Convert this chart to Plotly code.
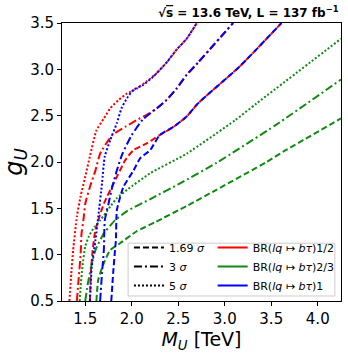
import plotly.graph_objects as go

# --- Data (M_U in TeV, g_U) ---
# BR(lq -> b tau) = 1/2  (red)
red_169_m = [1.55, 1.56, 1.58, 1.61, 1.70, 1.84, 1.93, 2.02, 2.16, 2.30, 2.45, 2.59, 2.71, 3.16, 3.61]
red_169_g = [0.50, 0.80, 1.05, 1.27, 1.55, 1.84, 2.02, 2.13, 2.20, 2.29, 2.38, 2.49, 2.63, 3.03, 3.50]
red_3_m = [1.41, 1.43, 1.45, 1.46, 1.48, 1.50, 1.55, 1.61, 1.66, 1.79, 1.93, 2.05, 2.16, 2.27, 2.375, 2.48, 2.59, 2.71, 3.09]
red_3_g = [0.50, 0.75, 1.00, 1.23, 1.37, 1.55, 1.73, 1.91, 2.09, 2.29, 2.38, 2.45, 2.51, 2.58, 2.67, 2.79, 2.94, 3.07, 3.50]
red_5_m = [1.33, 1.35, 1.37, 1.41, 1.45, 1.50, 1.55, 1.62, 1.70, 1.77, 1.86, 1.95, 2.05, 2.16, 2.27, 2.38, 2.48, 2.59, 2.70]
red_5_g = [0.50, 0.80, 1.05, 1.41, 1.63, 1.84, 2.06, 2.34, 2.47, 2.58, 2.67, 2.74, 2.79, 2.87, 2.96, 3.08, 3.21, 3.33, 3.50]

# BR = 2/3  (green)
green_169_m = [1.62, 1.64, 1.70, 1.77, 1.87, 2.05, 2.25, 2.60, 2.91, 3.45, 3.66, 4.25]
green_169_g = [0.50, 0.73, 0.91, 1.05, 1.12, 1.25, 1.35, 1.53, 1.70, 2.00, 2.13, 2.47]
green_3_m = [1.50, 1.53, 1.57, 1.61, 1.70, 1.82, 1.95, 2.20, 2.52, 2.91, 3.55, 4.25]
green_3_g = [0.50, 0.70, 0.90, 1.05, 1.23, 1.37, 1.47, 1.60, 1.77, 1.99, 2.40, 2.89]
green_5_m = [1.44, 1.45, 1.47, 1.50, 1.54, 1.60, 1.66, 1.77, 1.84, 1.95, 2.20, 2.59, 3.11, 3.34, 4.25]
green_5_g = [0.50, 0.65, 0.87, 1.09, 1.20, 1.30, 1.37, 1.52, 1.61, 1.70, 1.88, 2.09, 2.45, 2.63, 3.33]

# BR = 1  (blue)
blue_169_m = [1.78, 1.80, 1.82, 1.83, 1.84, 1.91, 2.02, 2.09, 2.20, 2.30, 2.45, 2.59, 2.71, 3.16, 3.61]
blue_169_g = [0.50, 0.80, 1.05, 1.16, 1.48, 1.73, 1.91, 2.04, 2.13, 2.29, 2.38, 2.49, 2.63, 3.03, 3.50]
blue_3_m = [1.66, 1.68, 1.70, 1.71, 1.75, 1.79, 1.84, 1.90, 2.00, 2.12, 2.27, 2.375, 2.48, 2.59, 2.71, 3.09]
blue_3_g = [0.50, 0.80, 1.05, 1.37, 1.55, 1.73, 1.91, 2.09, 2.29, 2.46, 2.58, 2.67, 2.79, 2.94, 3.07, 3.50]
blue_5_m = [1.55, 1.57, 1.61, 1.64, 1.68, 1.71, 1.77, 1.84, 1.89, 1.95, 2.02, 2.12, 2.23, 2.38, 2.48, 2.59, 2.70]
blue_5_g = [0.50, 0.87, 1.16, 1.41, 1.77, 2.06, 2.24, 2.42, 2.58, 2.69, 2.78, 2.83, 2.92, 3.08, 3.21, 3.33, 3.50]

sigma_labels = ["1.69 <i>σ</i>", "3 <i>σ</i>", "5 <i>σ</i>"]
br_labels = ["BR(<i>lq</i> ↦ <i>bτ</i>)1/2", "BR(<i>lq</i> ↦ <i>bτ</i>)2/3", "BR(<i>lq</i> ↦ <i>bτ</i>)1"]

RED, GREEN, BLUE = "#ff0000", "#108a10", "#0000ff"
DASH = "6px,3px"
DASHDOT = "8px,3px,2px,3px"
DOT = "2px,2px"

curves = [
    (red_169_m, red_169_g, RED, DASH), (red_3_m, red_3_g, RED, DASHDOT), (red_5_m, red_5_g, RED, DOT),
    (green_169_m, green_169_g, GREEN, DASH), (green_3_m, green_3_g, GREEN, DASHDOT), (green_5_m, green_5_g, GREEN, DOT),
    (blue_169_m, blue_169_g, BLUE, DASH), (blue_3_m, blue_3_g, BLUE, DASHDOT), (blue_5_m, blue_5_g, BLUE, DOT),
]

fig = go.Figure()
for m, g, col, dash in curves:
    fig.add_trace(go.Scatter(x=m, y=g, mode="lines", showlegend=False, hoverinfo="skip",
                             line=dict(color=col, dash=dash, width=2, shape="spline", smoothing=0.5)))

# legend: two borderless legends (line styles | colours) on one white box
for lab, dash in zip(sigma_labels, [DASH, DASHDOT, DOT]):
    fig.add_trace(go.Scatter(x=[None], y=[None], mode="lines", name=lab, legend="legend",
                             line=dict(color="black", dash=dash, width=2)))
for lab, col in zip(br_labels, [RED, GREEN, BLUE]):
    fig.add_trace(go.Scatter(x=[None], y=[None], mode="lines", name=lab, legend="legend2",
                             line=dict(color=col, width=2)))

fig.add_shape(type="rect", xref="paper", yref="paper", x0=0.237, x1=0.978, y0=0.018, y1=0.208,
              line=dict(color="#cccccc", width=1), fillcolor="white", layer="above")

fig.add_annotation(text="<b>√<span style='text-decoration:overline'>s</span> = 13.6 TeV, L = 137 fb<sup>−1</sup></b>",
                   xref="paper", yref="paper", x=1.0, y=1.005, xanchor="right", yanchor="bottom",
                   showarrow=False, font=dict(size=12, color="black"))

axis_common = dict(showline=True, linecolor="black", linewidth=1, mirror=True, ticks="outside",
                   ticklen=4, tickcolor="black", showgrid=False, zeroline=False, automargin=False,
                   tickfont=dict(size=15, color="black"))

legend_common = dict(orientation="v", bgcolor="rgba(0,0,0,0)", borderwidth=0, itemwidth=30,
                     font=dict(size=11, color="black"), yanchor="top", tracegroupgap=0)

fig.update_layout(
    width=348, height=354,
    margin=dict(l=62, r=7, t=23, b=53),
    paper_bgcolor="white", plot_bgcolor="white",
    font=dict(family="DejaVu Sans", color="black"),
    xaxis=dict(range=[1.25, 4.25], tickvals=[1.5, 2.0, 2.5, 3.0, 3.5, 4.0], tickformat=".1f",
               title=dict(text="<i>M</i><sub><i>U</i></sub> [TeV]", font=dict(size=19), standoff=2),
               **axis_common),
    yaxis=dict(range=[0.5, 3.5], tickvals=[0.5, 1.0, 1.5, 2.0, 2.5, 3.0, 3.5], tickformat=".1f",
               title=dict(text="<i>g</i><sub><i>U</i></sub>", font=dict(size=24), standoff=4),
               **axis_common),
    legend=dict(x=0.24, y=0.245, **legend_common),
    legend2=dict(x=0.54, y=0.245, **legend_common),
)

fig.write_html("out.html", config={"displayModeBar": False},
               post_script="document.body.style.margin='0';document.body.style.overflow='hidden';")
